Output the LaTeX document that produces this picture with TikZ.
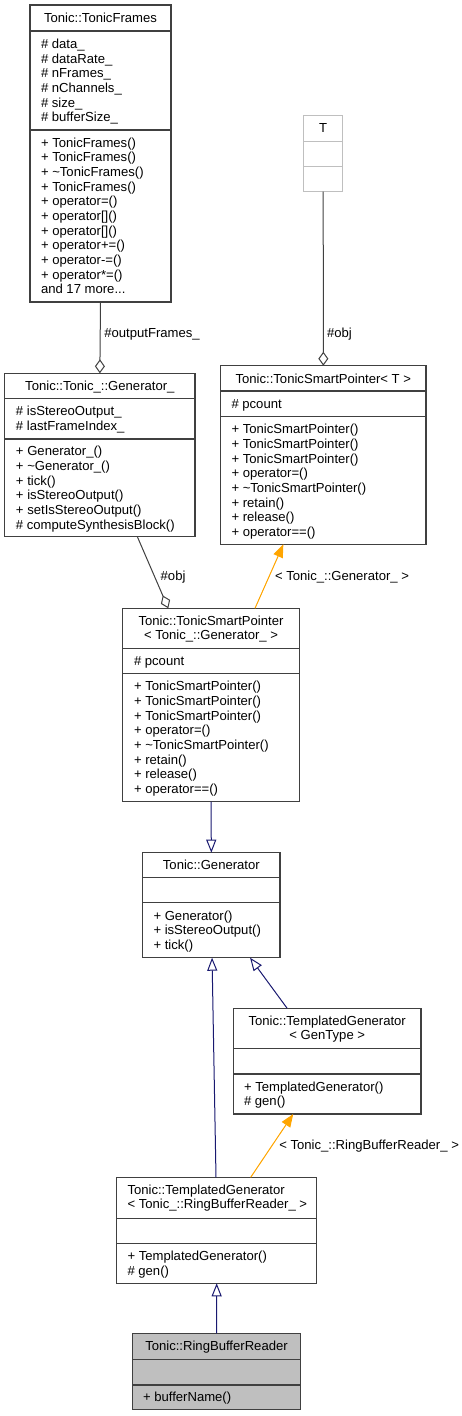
\documentclass[tikz,border=0pt]{standalone}
\usepackage{fontspec}
\setmainfont{Liberation Sans}
\usetikzlibrary{arrows.meta}
\definecolor{boxc}{HTML}{404040}
\definecolor{lgray}{HTML}{BFBFBF}
\definecolor{inhc}{HTML}{191970}
\definecolor{tmplc}{HTML}{FFA500}
\definecolor{aggc}{HTML}{404040}
\newcommand\mydots{...}
\newcommand\umlbox[6]{%
  \pgfmathsetmacro\bw{#4-#2}\pgfmathsetmacro\bh{#5-#3}%
  \node[box,#6,minimum width=\bw pt,minimum height=\bh pt,anchor=north west] (#1) at (#2,#3) {};}
\newcommand\usep[4][boxc]{\draw[draw=#1,line width=1.3pt] (#2,#4) -- (#3,#4);}
\newcommand\seclines[6]{%
  \foreach \t [count=\i] in {#6} {%
    \pgfmathsetmacro\yy{(#3+#4)/2+(\i-(#5+1)/2)*14.67+4.6}%
    \node[txt,anchor=base west] (#1-\i) at (#2,\yy) {\t};}}
\begin{document}
\begin{tikzpicture}[x=1pt,y=-1pt,
  box/.style={draw=boxc,line width=1.3pt,fill=white,inner sep=0pt,outer sep=0pt},
  txt/.style={inner sep=0pt,outer sep=0pt,font=\fontsize{13.1pt}{15pt}\selectfont},
  agg/.style={draw=aggc,line width=1pt,-{Diamond[open,fill=white,length=14pt,width=10pt]}},
  inh/.style={draw=inhc,line width=1pt,-{Triangle[open,fill=white,length=13pt,width=10pt]}},
  tmpl/.style={draw=tmplc,fill=tmplc,line width=1pt,-{Triangle[length=13pt,width=10pt]}}]
\useasboundingbox (0,0) rectangle (462,1416);

% Tonic::TonicFrames
\umlbox{frames}{30}{5}{171}{302}{}
\usep{30}{171}{31}\usep{30}{171}{130}
\node[txt,anchor=base] (frames-t) at (100.5,22.6) {Tonic::TonicFrames};
\seclines{frames-a}{41}{31}{130}{6}{\# data\_,\# dataRate\_,\# nFrames\_,\# nChannels\_,\# size\_,\# bufferSize\_}
\seclines{frames-m}{41}{130}{302}{11}{+ TonicFrames(),+ TonicFrames(),+ \textasciitilde TonicFrames(),+ TonicFrames(),+ operator=(),+ operator[](),+ operator[](),+ operator+=(),+ operator-=(),+ operator*=(),and 17 more\mydots}

% T
\umlbox{T}{303.7}{115.3}{342.7}{191.7}{draw=lgray}
\usep[lgray]{303.7}{342.7}{141.3}\usep[lgray]{303.7}{342.7}{166.7}
\node[txt,anchor=base] (T-t) at (323.2,132.9) {T};

% Tonic::TonicSmartPointer< T >
\umlbox{tspt}{220.7}{365.7}{426}{544.3}{}
\usep{220.7}{426}{391}\usep{220.7}{426}{416.7}
\node[txt,anchor=base] (tspt-t) at (323.3,383) {Tonic::TonicSmartPointer< T >};
\seclines{tspt-a}{231.5}{391}{416.7}{1}{\# pcount}
\seclines{tspt-m}{231.5}{416.7}{544.3}{8}{+ TonicSmartPointer(),+ TonicSmartPointer(),+ TonicSmartPointer(),+ operator=(),+ \textasciitilde TonicSmartPointer(),+ retain(),+ release(),+ operator==()}

% Tonic::Tonic_::Generator_
\umlbox{gen_}{4.7}{373.3}{195}{536.7}{}
\usep{4.7}{195}{398.3}\usep{4.7}{195}{439}
\node[txt,anchor=base] (gen_-t) at (99.85,390.5) {Tonic::Tonic\_::Generator\_};
\seclines{gen_-a}{16}{398.3}{439}{2}{\# isStereoOutput\_,\# lastFrameIndex\_}
\seclines{gen_-m}{16}{439}{536.7}{6}{+ Generator\_(),+ \textasciitilde Generator\_(),+ tick(),+ isStereoOutput(),+ setIsStereoOutput(),\# computeSynthesisBlock()}

% Tonic::TonicSmartPointer< Tonic_::Generator_ >
\umlbox{tspg}{122.7}{608.3}{299.3}{801.7}{}
\usep{122.7}{299.3}{648.3}\usep{122.7}{299.3}{673.3}
\node[txt,anchor=base] (tspg-t1) at (211,625.3) {Tonic::TonicSmartPointer};
\node[txt,anchor=base] (tspg-t2) at (211,639.6) {< Tonic\_::Generator\_ >};
\seclines{tspg-a}{134}{648.3}{673.3}{1}{\# pcount}
\seclines{tspg-m}{134}{673.3}{801.7}{8}{+ TonicSmartPointer(),+ TonicSmartPointer(),+ TonicSmartPointer(),+ operator=(),+ \textasciitilde TonicSmartPointer(),+ retain(),+ release(),+ operator==()}

% Tonic::Generator
\umlbox{generator}{142.7}{852.7}{280}{957.7}{}
\usep{142.7}{280}{877.7}\usep{142.7}{280}{902.7}
\node[txt,anchor=base] (generator-t) at (211.35,869.8) {Tonic::Generator};
\seclines{generator-m}{153.5}{902.7}{957.7}{3}{+ Generator(),+ isStereoOutput(),+ tick()}

% Tonic::TemplatedGenerator< GenType >
\umlbox{tgg}{233.3}{1008.3}{421}{1114}{}
\usep{233.3}{421}{1048.3}\usep{233.3}{421}{1074}
\node[txt,anchor=base] (tgg-t1) at (327.2,1025.3) {Tonic::TemplatedGenerator};
\node[txt,anchor=base] (tgg-t2) at (327.2,1039) {< GenType >};
\seclines{tgg-m}{244}{1074}{1114}{2}{+ TemplatedGenerator(),\# gen()}

% Tonic::TemplatedGenerator< Tonic_::RingBufferReader_ >
\umlbox{tgrbr}{116.7}{1177.3}{316.7}{1283.3}{}
\usep{116.7}{316.7}{1218.3}\usep{116.7}{316.7}{1243.3}
\node[txt,anchor=base west] (tgrbr-t1) at (127.5,1194.6) {Tonic::TemplatedGenerator};
\node[txt,anchor=base west] (tgrbr-t2) at (127.5,1208.9) {< Tonic\_::RingBufferReader\_ >};
\seclines{tgrbr-m}{127.5}{1243.3}{1283.3}{2}{+ TemplatedGenerator(),\# gen()}

% Tonic::RingBufferReader
\umlbox{rbr}{132.3}{1333.3}{300.7}{1409.3}{fill=lgray}
\usep{132.3}{300.7}{1359.3}\usep{132.3}{300.7}{1385}
\node[txt,anchor=base] (rbr-t) at (216.5,1350.9) {Tonic::RingBufferReader};
\seclines{rbr-m}{143}{1385}{1409.3}{1}{+ bufferName()}

% connectors
\draw[agg] (frames.south) -- (gen_.north);
\draw[agg] (T.south) -- (tspt.north);
\draw[agg] ([xshift=37.5pt]gen_.south) -- ([xshift=-42.7pt]tspg.north);
\draw[tmpl] ([xshift=44pt]tspg.north) -- ([xshift=-40pt]tspt.south);
\draw[inh] (tspg.south) -- (generator.north);
\draw[inh] ([xshift=-40pt]tgg.north) -- ([xshift=38.7pt]generator.south);
\draw[inh] ([xshift=-0.7pt]tgrbr.north) -- ([xshift=0.7pt]generator.south);
\draw[tmpl] ([xshift=34pt]tgrbr.north) -- ([xshift=-33.9pt]tgg.south);
\draw[inh] (rbr.north) -- (tgrbr.south);

% connector labels
\node[txt,anchor=base west] (lbl-of) at (104.3,337.6) {\#outputFrames\_};
\node[txt,anchor=base west] (lbl-obj1) at (327,337.3) {\#obj};
\node[txt,anchor=base west] (lbl-obj2) at (160.7,580.3) {\#obj};
\node[txt,anchor=base west] (lbl-gen) at (275,580.3) {< Tonic\_::Generator\_ >};
\node[txt,anchor=base west] (lbl-rbr) at (279.3,1149.6) {< Tonic\_::RingBufferReader\_ >};
\end{tikzpicture}
\end{document}
